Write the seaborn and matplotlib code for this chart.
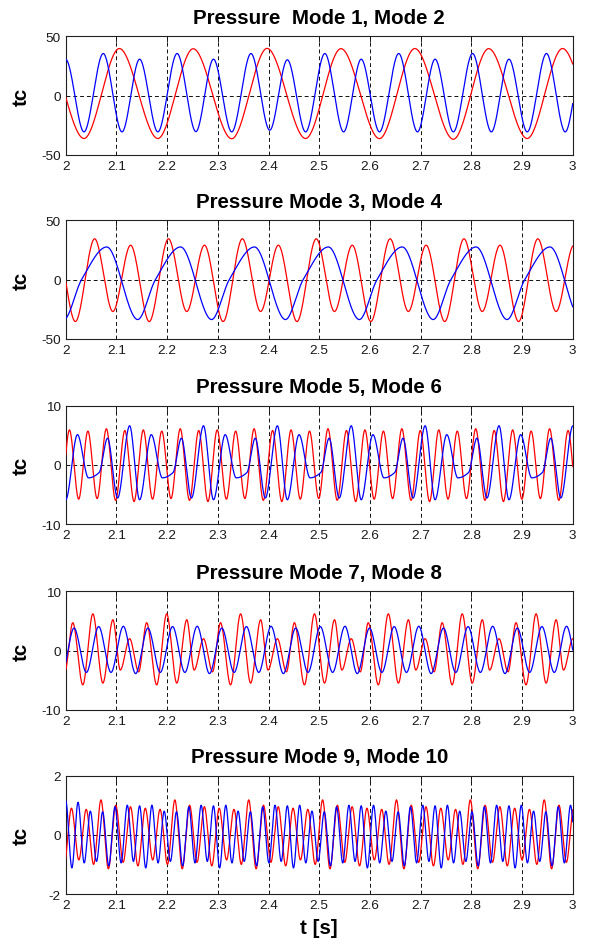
import numpy as np
import pandas as pd
import matplotlib
matplotlib.use("Agg")
import matplotlib.pyplot as plt
import seaborn as sns

# ---------------------------------------------------------------------------
# Modal pressure coefficients: turning points (time [s], value) of each mode
# ---------------------------------------------------------------------------
TITLES = ["Pressure  Mode 1, Mode 2", "Pressure Mode 3, Mode 4",
          "Pressure Mode 5, Mode 6", "Pressure Mode 7, Mode 8",
          "Pressure Mode 9, Mode 10"]
Y_LIMITS = [50, 50, 10, 10, 2]
X_TICKS = [2.0, 2.1, 2.2, 2.3, 2.4, 2.5, 2.6, 2.7, 2.8, 2.9, 3.0]
X_TICK_LABELS = ["2", "2.1", "2.2", "2.3", "2.4", "2.5", "2.6", "2.7", "2.8", "2.9", "3"]

# Mode 1
mode1_t = [1.960, 2.036, 2.1057, 2.1817, 2.2514, 2.3274, 2.3971, 2.4731,
           2.5428, 2.6188, 2.6885, 2.7645, 2.8342, 2.9102, 2.9799, 3.0559]
mode1_v = [39.5, -36.3, 39.7, -36.3, 39.5, -36.5, 39.8, -36.3,
           39.6, -36.4, 39.7, -36.9, 39.6, -36.3, 39.7, -36.4]

# Mode 2
mode2_t = [2.0000, 2.0360, 2.0740, 2.1110, 2.1457, 2.1817, 2.2197, 2.2567,
           2.2914, 2.3274, 2.3654, 2.4024, 2.4371, 2.4731, 2.5111, 2.5481,
           2.5828, 2.6188, 2.6568, 2.6938, 2.7285, 2.7645, 2.8025, 2.8395,
           2.8742, 2.9102, 2.9482, 2.9852, 3.0199]
mode2_v = [30.5, -30.7, 35.5, -30.7, 30.7, -30.7, 35.5, -30.5,
           30.7, -30.7, 35.5, -29.3, 30.2, -30.7, 35.5, -30.7,
           30.7, -30.7, 35.5, -30.7, 30.7, -30.7, 35.5, -30.7,
           30.7, -30.7, 35.5, -30.7, 30.7]

# Mode 3
mode3_t = [1.9823, 2.0190, 2.0570, 2.0930, 2.1280, 2.1647, 2.2027, 2.2387,
           2.2737, 2.3104, 2.3484, 2.3844, 2.4194, 2.4561, 2.4941, 2.5301,
           2.5651, 2.6018, 2.6398, 2.6758, 2.7108, 2.7475, 2.7855, 2.8215,
           2.8565, 2.8932, 2.9312, 2.9672, 3.0022]
mode3_v = [29.0, -35.5, 34.4, -27.0, 29.0, -35.5, 34.4, -27.0,
           29.0, -35.5, 34.4, -27.0, 29.0, -35.5, 34.4, -27.0,
           29.0, -35.5, 34.4, -27.0, 29.0, -35.5, 34.4, -27.0,
           29.0, -35.5, 34.4, -27.0, 29.0]

# Mode 4
mode4_t = [1.9963, 2.0313, 2.0810, 2.1420, 2.1770, 2.2267, 2.2877, 2.3227,
           2.3724, 2.4334, 2.4684, 2.5181, 2.5791, 2.6141, 2.6638, 2.7248,
           2.7598, 2.8095, 2.8705, 2.9055, 2.9552, 3.0162]
mode4_v = [-33.8, 0.0, 27.5, -33.8, 0.0, 27.5, -33.8, 0.0,
           27.5, -33.8, 0.0, 27.5, -33.8, 0.0, 27.5, -33.8,
           0.0, 27.5, -33.8, 0.0, 27.5, -33.8]

# Mode 5 (evenly spaced turning points)
MODE5_START, MODE5_STEP = 1.9891, 0.0182125
mode5_v = [-6.2, 5.9, -5.8, 5.7, -5.7, 6.1, -6.0, 5.8,
           -6.2, 5.9, -5.8, 5.7, -5.7, 6.1, -6.0, 5.8,
           -6.2, 5.9, -5.8, 5.7, -5.7, 6.1, -6.0, 5.8,
           -6.2, 5.9, -5.8, 5.7, -5.7, 6.1, -6.0, 5.8,
           -6.2, 5.9, -5.8, 5.7, -5.7, 6.1, -6.0, 5.8,
           -6.2, 5.9, -5.8, 5.7, -5.7, 6.1, -6.0, 5.8,
           -6.2, 5.9, -5.8, 5.7, -5.7, 6.1, -6.0, 5.8,
           -6.2]

# Mode 6
mode6_t = [2.0000, 2.0231, 2.0449, 2.0660, 2.0825, 2.1023, 2.1261,
           2.1457, 2.1688, 2.1906, 2.2117, 2.2282, 2.2480, 2.2718,
           2.2914, 2.3145, 2.3363, 2.3574, 2.3739, 2.3937, 2.4175,
           2.4371, 2.4602, 2.4820, 2.5031, 2.5196, 2.5394, 2.5632,
           2.5828, 2.6059, 2.6277, 2.6488, 2.6653, 2.6851, 2.7089,
           2.7285, 2.7516, 2.7734, 2.7945, 2.8110, 2.8308, 2.8546,
           2.8742, 2.8973, 2.9191, 2.9402, 2.9567, 2.9765, 3.0003,
           3.0199]
mode6_v = [-5.9, 5.1, -2.2, -1.3, 4.5, -5.6, 6.6,
           -5.9, 5.1, -2.2, -1.3, 4.5, -5.6, 6.6,
           -5.9, 5.1, -2.2, -1.3, 4.5, -5.6, 6.6,
           -5.9, 5.1, -2.2, -1.3, 4.5, -5.6, 6.6,
           -5.9, 5.1, -2.2, -1.3, 4.5, -5.6, 6.6,
           -5.9, 5.1, -2.2, -1.3, 4.5, -5.6, 6.6,
           -5.9, 5.1, -2.2, -1.3, 4.5, -5.6, 6.6,
           -5.9]

# Mode 7
mode7_t = [1.9982,
           2.0139, 2.0337, 2.0535, 2.0733, 2.0931, 2.1076, 2.1261, 2.1439,
           2.1596, 2.1794, 2.1992, 2.2190, 2.2388, 2.2533, 2.2718, 2.2896,
           2.3053, 2.3251, 2.3449, 2.3647, 2.3845, 2.3990, 2.4175, 2.4353,
           2.4510, 2.4708, 2.4906, 2.5104, 2.5302, 2.5447, 2.5632, 2.5810,
           2.5967, 2.6165, 2.6363, 2.6561, 2.6759, 2.6904, 2.7089, 2.7267,
           2.7424, 2.7622, 2.7820, 2.8018, 2.8216, 2.8361, 2.8546, 2.8724,
           2.8881, 2.9079, 2.9277, 2.9475, 2.9673, 2.9818, 3.0003, 3.0181]
mode7_v = [-3.6,
           4.7, -5.8, 6.2, -5.5, 5.2, -3.3, 2.0, -3.6,
           4.7, -5.8, 6.2, -5.5, 5.2, -3.3, 2.0, -3.6,
           4.7, -5.8, 6.2, -5.5, 5.2, -3.3, 2.0, -3.6,
           4.7, -5.8, 6.2, -5.5, 5.2, -3.3, 2.0, -3.6,
           4.7, -5.8, 6.2, -5.5, 5.2, -3.3, 2.0, -3.6,
           4.7, -5.8, 6.2, -5.5, 5.2, -3.3, 2.0, -3.6,
           4.7, -5.8, 6.2, -5.5, 5.2, -3.3, 2.0, -3.6]

# Mode 8 (evenly spaced turning points)
MODE8_START, MODE8_STEP = 1.9922, 0.0242833
mode8_v = [-3.9, 3.8, -3.7, 4.05, -3.7, 4.1,
           -3.9, 3.8, -3.7, 4.05, -3.7, 4.1,
           -3.9, 3.8, -3.7, 4.05, -3.7, 4.1,
           -3.9, 3.8, -3.7, 4.05, -3.7, 4.1,
           -3.9, 3.8, -3.7, 4.05, -3.7, 4.1,
           -3.9, 3.8, -3.7, 4.05, -3.7, 4.1,
           -3.9, 3.8, -3.7, 4.05, -3.7, 4.1,
           -3.9]

# Mode 9 (evenly spaced turning points)
MODE9_START, MODE9_STEP = 1.9967, 0.01457
mode9_v = [-1.05, 0.90, -0.85, 0.86, -1.00, 1.18, -1.15, 1.00, -0.93, 0.95,
           -1.05, 0.90, -0.85, 0.86, -1.00, 1.18, -1.15, 1.00, -0.93, 0.95,
           -1.05, 0.90, -0.85, 0.86, -1.00, 1.18, -1.15, 1.00, -0.93, 0.95,
           -1.05, 0.90, -0.85, 0.86, -1.00, 1.18, -1.15, 1.00, -0.93, 0.95,
           -1.05, 0.90, -0.85, 0.86, -1.00, 1.18, -1.15, 1.00, -0.93, 0.95,
           -1.05, 0.90, -0.85, 0.86, -1.00, 1.18, -1.15, 1.00, -0.93, 0.95,
           -1.05, 0.90, -0.85, 0.86, -1.00, 1.18, -1.15, 1.00, -0.93, 0.95]

# Mode 10 (evenly spaced turning points)
MODE10_START, MODE10_STEP = 2.0, 0.0121417
mode10_v = [1.15, -1.12, 1.10, -0.95, 0.80, -0.90, 0.78, -1.05, 0.95, -0.95, 1.00, -0.90,
            0.98, -1.12, 1.00, -0.95, 0.80, -0.90, 0.78, -1.05, 0.95, -0.95, 1.00, -0.90,
            0.98, -1.12, 1.00, -0.95, 0.80, -0.90, 0.78, -1.05, 0.95, -0.95, 1.00, -0.90,
            0.98, -1.12, 1.00, -0.95, 0.80, -0.90, 0.78, -1.05, 0.95, -0.95, 1.00, -0.90,
            0.98, -1.12, 1.00, -0.95, 0.80, -0.90, 0.78, -1.05, 0.95, -0.95, 1.00, -0.90,
            0.98, -1.12, 1.00, -0.95, 0.80, -0.90, 0.78, -1.05, 0.95, -0.95, 1.00, -0.90,
            0.98, -1.12, 1.00, -0.95, 0.80, -0.90, 0.78, -1.05, 0.95, -0.95, 1.00, -0.90]


def even_times(start, step, values):
    return start + step * np.arange(len(values))


def pchip(xk, yk, xq):
    """Shape-preserving cubic through the turning points."""
    xk = np.asarray(xk, float)
    yk = np.asarray(yk, float)
    h = np.diff(xk)
    delta = np.diff(yk) / h
    d = np.zeros_like(yk)
    for k in range(1, len(xk) - 1):
        if delta[k - 1] * delta[k] > 0:
            w1 = 2 * h[k] + h[k - 1]
            w2 = h[k] + 2 * h[k - 1]
            d[k] = (w1 + w2) / (w1 / delta[k - 1] + w2 / delta[k])
    i = np.clip(np.searchsorted(xk, xq) - 1, 0, len(h) - 1)
    s = (xq - xk[i]) / h[i]
    h00 = 2 * s**3 - 3 * s**2 + 1
    h10 = s**3 - 2 * s**2 + s
    h01 = -2 * s**3 + 3 * s**2
    h11 = s**3 - s**2
    return h00 * yk[i] + h10 * h[i] * d[i] + h01 * yk[i + 1] + h11 * h[i] * d[i + 1]


pairs = [
    ((mode1_t, mode1_v), (mode2_t, mode2_v)),
    ((mode3_t, mode3_v), (mode4_t, mode4_v)),
    ((even_times(MODE5_START, MODE5_STEP, mode5_v), mode5_v), (mode6_t, mode6_v)),
    ((mode7_t, mode7_v), (even_times(MODE8_START, MODE8_STEP, mode8_v), mode8_v)),
    ((even_times(MODE9_START, MODE9_STEP, mode9_v), mode9_v),
     (even_times(MODE10_START, MODE10_STEP, mode10_v), mode10_v)),
]

sns.set_style("white")
plt.rcParams["font.family"] = ["Liberation Sans", "DejaVu Sans"]
plt.rcParams["text.color"] = "black"
plt.rcParams["axes.labelcolor"] = "black"

fig = plt.figure(figsize=(5.91, 9.45), dpi=100)
LEFT, WIDTH, HEIGHT = 0.1112, 0.8579, 0.1253
BOTTOMS = [0.8352, 0.6405, 0.4444, 0.2479, 0.0529]

t_fine = np.linspace(2.0, 3.0, 4001)
frame_col = "#202020"
grid_kw = dict(color="#101010", linewidth=0.7, linestyle=(0, (4, 3)))

for n, (bottom, title, ylim, (odd, even)) in enumerate(zip(BOTTOMS, TITLES, Y_LIMITS, pairs)):
    ax = fig.add_axes([LEFT, bottom, WIDTH, HEIGHT])
    frame = pd.concat([
        pd.DataFrame({"t": t_fine, "tc": pchip(odd[0], odd[1], t_fine), "mode": "odd"}),
        pd.DataFrame({"t": t_fine, "tc": pchip(even[0], even[1], t_fine), "mode": "even"}),
    ])
    sns.lineplot(data=frame, x="t", y="tc", hue="mode",
                 palette={"odd": "#ff0000", "even": "#0000ff"},
                 hue_order=["odd", "even"], estimator=None, sort=False,
                 linewidth=0.9, legend=False, ax=ax, zorder=3)

    ax.set_xlim(2.0, 3.0)
    ax.set_ylim(-ylim, ylim)
    ax.set_xticks(X_TICKS)
    ax.set_xticklabels(X_TICK_LABELS)
    ax.set_yticks([-ylim, 0, ylim])
    ax.set_yticklabels([str(-ylim), "0", str(ylim)])
    ax.tick_params(direction="in", length=4, width=0.7, colors=frame_col,
                   labelsize=9.7, pad=3.5, top=True, right=True,
                   labelcolor="#1a1a1a")
    for x in X_TICKS[1:-1]:
        ax.axvline(x, zorder=1, **grid_kw)
    ax.axhline(0, zorder=1, **grid_kw)
    for sp in ax.spines.values():
        sp.set_color(frame_col)
        sp.set_linewidth(0.8)

    ax.set_title(title, fontsize=14.8, fontweight="bold", pad=9.6, color="black")
    ax.set_ylabel("tc", fontsize=14.8, fontweight="bold", color="black")
    ax.yaxis.set_label_coords(-0.069, 0.5)
    if n == len(TITLES) - 1:
        ax.set_xlabel("t [s]", fontsize=14.8, fontweight="bold", color="black")
        ax.xaxis.set_label_coords(0.5, -0.205)
    else:
        ax.set_xlabel("")

fig.savefig("out.png", dpi=100, facecolor="white")
